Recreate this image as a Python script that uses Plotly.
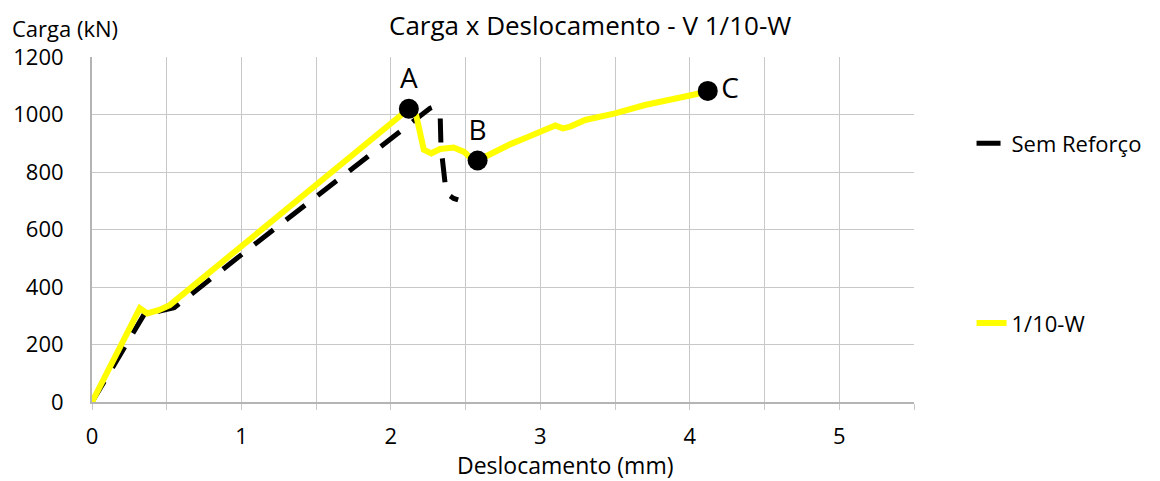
import plotly.graph_objects as go

# Sem Reforço (dashed black)
sem_x = [0, 0.15, 0.38, 0.45, 0.55, 1.05, 1.76, 2.14, 2.26, 2.29, 2.33, 2.335, 2.35, 2.37, 2.42, 2.45]
sem_y = [0, 130, 332, 316, 328, 533, 820, 975, 1021, 1027, 990, 888, 800, 726, 708, 703]

# 1/10-W (yellow)
w_x = [0, 0.32, 0.37, 0.45, 0.52, 1.0, 1.6, 2.12, 2.17, 2.22, 2.27, 2.33, 2.42, 2.49, 2.54, 2.58,
       2.63, 2.7, 2.8, 2.9, 3.0, 3.1, 3.15, 3.2, 3.3, 3.5, 3.7, 3.9, 4.0, 4.12]
w_y = [0, 326, 308, 320, 337, 540, 797, 1020, 995, 878, 865, 880, 885, 870, 845, 840,
       853, 872, 897, 918, 938, 962, 952, 958, 981, 1004, 1033, 1058, 1066, 1080]

# marked points
pt_x = [2.12, 2.58, 4.12]
pt_y = [1020, 840, 1082]
pt_labels = ["A", "B", "C"]
pt_pos = ["top center", "top center", "middle right"]

x_tick_vals = [0, 0.5, 1, 1.5, 2, 2.5, 3, 3.5, 4, 4.5, 5, 5.5]
x_tick_text = ["0", "", "1", "", "2", "", "3", "", "4", "", "5", ""]
y_tick_vals = [0, 200, 400, 600, 800, 1000, 1200]

FONT = "Open Sans"
GRID = "#c8c8c8"

fig = go.Figure()
fig.add_trace(go.Scatter(
    x=sem_x, y=sem_y, mode="lines", name="Sem Reforço",
    line=dict(color="black", width=5, dash="24px,16px"),
    legendgroup="a",
))
fig.add_trace(go.Scatter(
    x=w_x, y=w_y, mode="lines", name="1/10-W",
    line=dict(color="#ffff00", width=6),
    legendgroup="b",
))
fig.add_trace(go.Scatter(
    x=pt_x, y=pt_y, mode="markers+text", text=pt_labels, textposition=pt_pos,
    marker=dict(color="black", size=20),
    textfont=dict(family=FONT, size=28, color="black"),
    showlegend=False,
))

# page body has an 8px margin, so the figure is sized to fit the window
fig.update_layout(
    width=1152, height=473,
    margin=dict(l=84, r=246, t=49, b=79),
    paper_bgcolor="white", plot_bgcolor="white",
    font=dict(family=FONT, size=22, color="black"),
    legend=dict(
        x=1.07, y=0.81, xanchor="left", yanchor="top",
        tracegroupgap=148, font=dict(size=22),
        bgcolor="rgba(0,0,0,0)", borderwidth=0,
    ),
    annotations=[
        dict(text="Carga x Deslocamento - V 1/10-W", x=0.606, y=1.093, xref="paper", yref="paper",
             showarrow=False, xanchor="center", yanchor="middle", font=dict(size=26)),
        dict(text="Carga (kN)", x=-0.1, y=1.084, xref="paper", yref="paper",
             showarrow=False, xanchor="left", yanchor="middle", font=dict(size=22)),
        dict(text="Deslocamento (mm)", x=0.575, y=-0.182, xref="paper", yref="paper",
             showarrow=False, xanchor="center", yanchor="middle", font=dict(size=23)),
    ],
)
fig.update_xaxes(
    range=[0, 5.5], tickvals=x_tick_vals, ticktext=x_tick_text,
    showgrid=True, gridcolor=GRID, gridwidth=1,
    showline=True, linecolor="#b4b4b4", linewidth=2,
    ticks="outside", ticklen=6, tickcolor=GRID, ticklabelstandoff=8,
    zeroline=False, mirror=False, automargin=False,
)
fig.update_yaxes(
    range=[0, 1200], tickvals=y_tick_vals,
    showgrid=True, gridcolor=GRID, gridwidth=1,
    showline=True, linecolor="#b4b4b4", linewidth=2,
    ticks="", ticklabelstandoff=22, zeroline=False, automargin=False,
)

fig.write_html("out.html")
